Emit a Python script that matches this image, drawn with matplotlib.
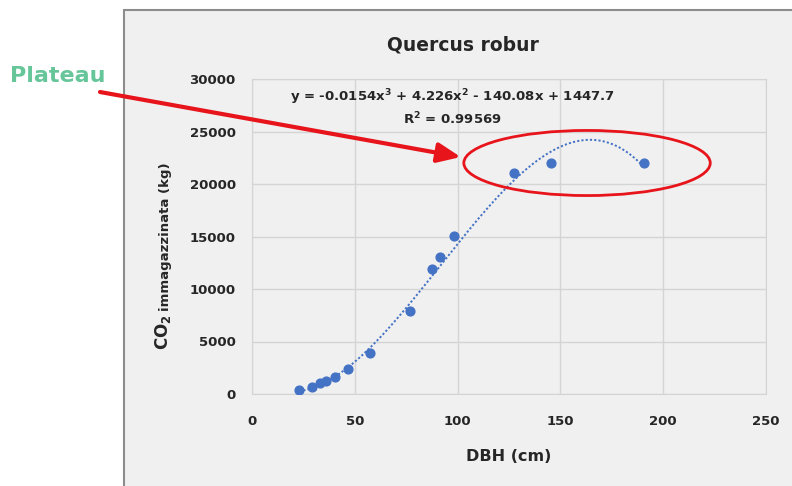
import matplotlib
matplotlib.use("Agg")
from matplotlib import pyplot as plt
from matplotlib.patches import Ellipse, Rectangle
import numpy as np

# DBH (cm) and stored CO2 (kg)
dbh = [22.8, 29.3, 32.9, 36.1, 40.1, 46.6, 57.1, 76.6, 87.7, 91.6, 98.4, 127.5, 145.6, 190.6]
co2 = [400, 700, 1020, 1240, 1590, 2380, 3930, 7930, 11900, 13020, 15080, 21020, 21970, 21970]

# polynomial trendline coefficients shown on the chart (x^3, x^2, x, 1)
trend_coef = [-0.0154, 4.226, -140.08, 1447.7]

x_ticks = [0, 50, 100, 150, 200, 250]
y_ticks = [0, 5000, 10000, 15000, 20000, 25000, 30000]

blue = "#4472c4"
red = "#e8141b"
txt = "#262626"

fig = plt.figure(figsize=(7.92, 4.86), dpi=100)
fig.patch.set_facecolor("white")

# chart area box
fig.patches.append(Rectangle((124 / 792, -0.05), 1.0, 1 - 10 / 486 + 0.05,
                             transform=fig.transFigure, facecolor="#f0f0f0",
                             edgecolor="#8c8c8c", linewidth=1.5, zorder=-10))

ax = fig.add_axes([252.3 / 792, 1 - 394 / 486, (765.7 - 252.3) / 792, (394 - 79) / 486])
ax.set_facecolor("#f0f0f0")
ax.set_xlim(0, 250)
ax.set_ylim(0, 30000)
ax.set_xticks(x_ticks)
ax.set_yticks(y_ticks)
ax.grid(color="#d4d4d4", linewidth=1)
ax.set_axisbelow(True)
for s in ax.spines.values():
    s.set_color("#d4d4d4")
ax.tick_params(length=0, pad=12, labelsize=9.5, labelcolor=txt)
ax.tick_params(axis="x", pad=15)
for lab in ax.get_xticklabels() + ax.get_yticklabels():
    lab.set_fontweight("bold")

xs = np.linspace(min(dbh), max(dbh), 200)
ax.plot(xs, np.polyval(trend_coef, xs), linestyle=(0, (1.1, 1.1)), color=blue,
        linewidth=1.4, zorder=2)
ax.scatter(dbh, co2, s=40, color=blue, zorder=3)

ax.set_xlabel("DBH (cm)", fontsize=11.5, fontweight="bold", color=txt, labelpad=15)
# y label: big CO2, smaller rest
fig.text(163 / 792, 1 - 350 / 486, r"CO$_\mathbf{2}$", rotation=90, ha="center",
         va="bottom", fontsize=12, fontweight="bold", color=txt)
fig.text(165 / 792, 1 - 311 / 486, "immagazzinata (kg)", rotation=90, ha="center",
         va="bottom", fontsize=9.5, fontweight="bold", color=txt)

fig.text(463 / 792, 1 - 45 / 486, "Quercus robur", ha="center", va="center",
         fontsize=13.5, fontweight="bold", color=txt)
fig.text(452 / 792, 1 - 107 / 486,
         "y = -0.0154x$^\\mathbf{3}$ + 4.226x$^\\mathbf{2}$ - 140.08x + 1447.7\n"
         "R$^\\mathbf{2}$ = 0.99569",
         ha="center", va="center", fontsize=9.5, fontweight="bold", color=txt,
         linespacing=1.25)

# plateau annotation
fig.text(10 / 792, 1 - 76 / 486, "Plateau", ha="left", va="center",
         fontsize=16, fontweight="bold", color="#66c69a")
ax.add_patch(Ellipse((163, 22000), 120, 6200, fill=False, edgecolor=red,
                     linewidth=2, clip_on=False, zorder=4))
ax.annotate("", xy=(101.5, 22570), xycoords="data",
            xytext=(100, 486 - 92), textcoords="figure pixels",
            arrowprops=dict(arrowstyle="-|>,head_length=1.4,head_width=0.6",
                            color=red, lw=3, shrinkA=0, shrinkB=0),
            annotation_clip=False, zorder=5)

fig.savefig("out.png", dpi=100)
